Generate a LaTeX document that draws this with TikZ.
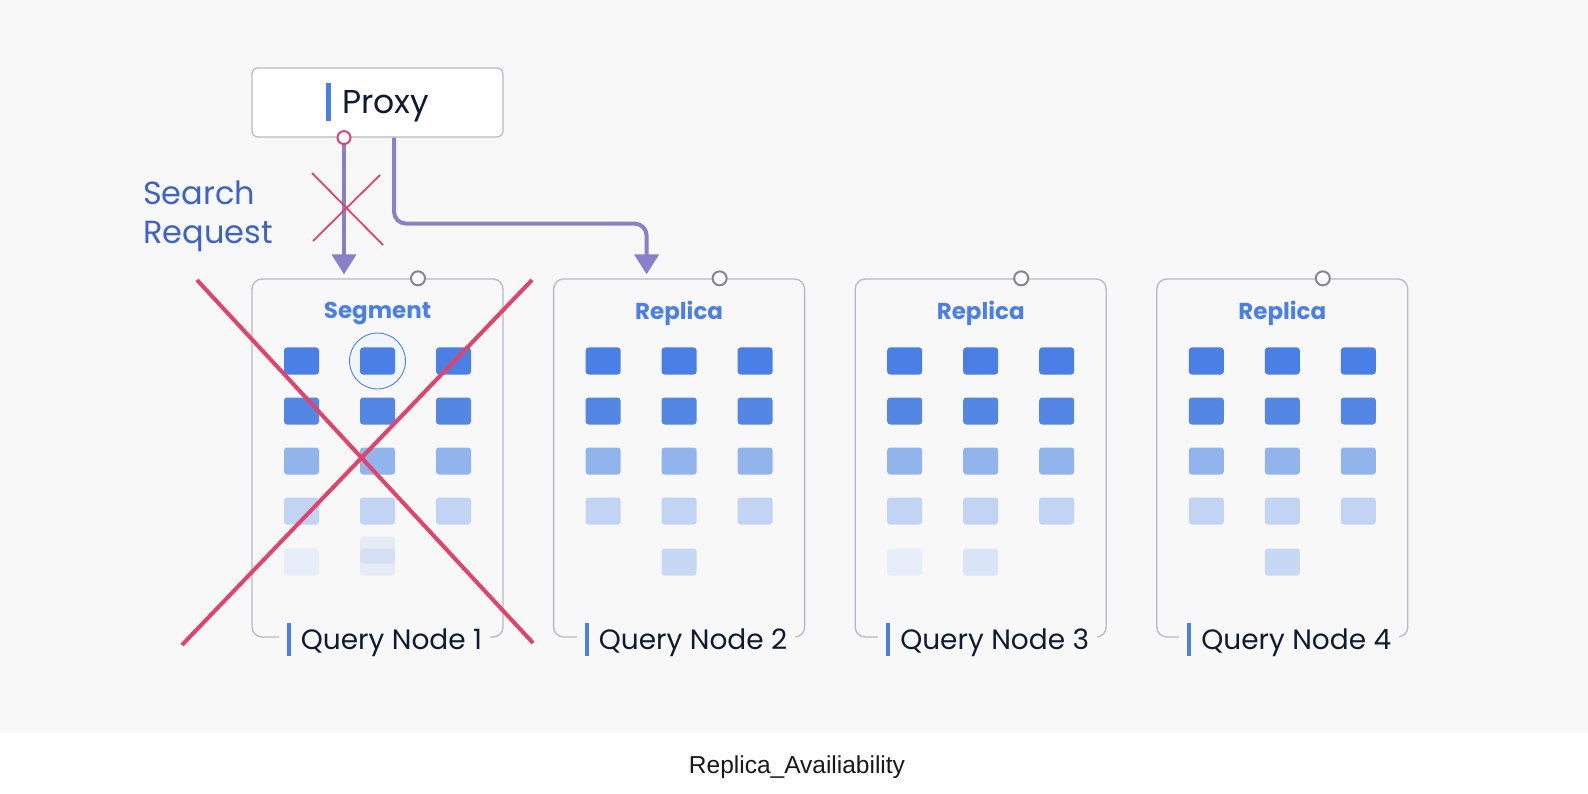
\documentclass[tikz,border=0pt]{standalone}
\usepackage{fontspec}
\setmainfont{Poppins}
\newfontfamily\capfont{Liberation Sans}
\usetikzlibrary{arrows.meta,calc}

\definecolor{bgray}{HTML}{F8F8F9}
\definecolor{qblue}{HTML}{4A80E5}
\definecolor{sq2}{HTML}{5387E3}
\definecolor{sq3}{HTML}{92B4EC}
\definecolor{sq4}{HTML}{C2D4F3}
\definecolor{sq5}{HTML}{C7D8F4}
\definecolor{sqfaint}{HTML}{E8EEF9}
\definecolor{sqpale}{HTML}{D9E5F7}
\definecolor{frame}{HTML}{B9B9C2}
\definecolor{portc}{HTML}{86868C}
\definecolor{flowc}{HTML}{8A7FC9}
\definecolor{crossc}{HTML}{E0446A}
\definecolor{reqc}{HTML}{3C63C6}
\definecolor{ink}{HTML}{0F1A33}

\tikzset{
  qnode/.style={draw=frame, line width=1.3pt, rounded corners=10pt, minimum width=251pt, minimum height=358pt, inner sep=0pt},
  qlabel/.style={fill=bgray, inner xsep=8pt, inner ysep=2pt, text=ink, font=\fontsize{28}{32}\selectfont},
  segtitle/.style={text=qblue, font=\fontsize{23}{26}\selectfont\bfseries},
  flow/.style={draw=flowc, line width=4pt, shorten >=4pt, -{Triangle[width=24pt,length=20pt]}},
  port/.style={circle, draw=portc, fill=white, line width=2pt, minimum size=14pt, inner sep=0pt},
  cross/.style={draw=crossc, line width=4pt},
  thincross/.style={draw=crossc, line width=1.8pt},
  seg/.style={rounded corners=3pt},
}

\begin{document}
\begin{tikzpicture}[x=1pt,y=-1pt]
\useasboundingbox (0,0) rectangle (1588,794);
\fill [white] (0,0) rectangle (1588,794);
\fill [bgray] (0,0) rectangle (1588,733);

% proxy
\node [draw=frame, fill=white, line width=1.2pt, rounded corners=6pt, minimum width=251pt, minimum height=69pt, inner sep=0pt, text=ink, font=\fontsize{33}{36}\selectfont] (proxy) at (377.5,102.5) {\textcolor{qblue}{\rule[-7pt]{5pt}{38pt}}\hspace{11pt}Proxy};

% query nodes
\foreach \i/\t in {1/Segment, 2/Replica, 3/Replica, 4/Replica} {
  \node [qnode] (qn\i) at ({377.5+301.6*(\i-1)},458) {};
  \node [segtitle] (title\i) at ([yshift=-35pt]qn\i.north) {\t};
  \node [qlabel] (label\i) at ([xshift=7pt,yshift=-2pt]qn\i.south) {\textcolor{qblue}{\rule[-7pt]{4pt}{33pt}}\hspace{10pt}Query Node \i};
  \node [port] (port\i) at ([xshift=40.5pt]qn\i.north) {};
}

% highlighted segment
\draw [qblue, fill=qblue!8!white, line width=0.9pt] (377.5,361) circle (28);

% segments
\foreach \i in {0,...,3} {
  \foreach \r/\c in {361/qblue, 411/sq2, 461/sq3, 511/sq4} {
    \foreach \dx in {-76,0,76} {
      \fill [seg, \c] ({377.5+301.6*\i+\dx-17.5},\r-13.5) rectangle ++(35,27);
    }
  }
}
\fill [seg, sqfaint] (301.5-17.5,562-13.5) rectangle ++(35,27);
\fill [seg, qblue, fill opacity=0.1] (377.5-17.5,562-13.5) rectangle ++(35,27);
\fill [seg, qblue, fill opacity=0.1] (377.5-17.5,550-13.5) rectangle ++(35,27);
\fill [seg, sq5] (679.1-17.5,562-13.5) rectangle ++(35,27);
\fill [seg, sqfaint] (904.7-17.5,562-13.5) rectangle ++(35,27);
\fill [seg, sqpale] (980.7-17.5,562-13.5) rectangle ++(35,27);
\fill [seg, sq5] (1282.3-17.5,562-13.5) rectangle ++(35,27);

% requests
\node [port, draw=crossc, minimum size=13pt] (req) at ([xshift=-33.5pt]proxy.south) {};
\draw [flow] (req.south) -- ([xshift=-33.5pt]qn1.north);
\draw [flow, rounded corners=12pt] ([xshift=16.5pt]proxy.south) -- ++(0,86) -| ([xshift=-32.5pt]qn2.north);

\node [text=reqc, align=left, anchor=west, inner sep=0pt, font=\fontsize{32}{39}\selectfont] (reqtext) at (143,216) {Search\\Request};

\coordinate (blk) at (347,209);
\draw [thincross] ($(blk)+(-35,-36)$) -- ($(blk)+(36,36)$);
\draw [thincross] ($(blk)+(33,-34)$) -- ($(blk)+(-34,32)$);

% failed node
\draw [cross] (197,280) -- (533,643);
\draw [cross] (532,280) -- (182,645);

\node [text=black!90, font=\capfont\fontsize{24.5}{28}\selectfont] (caption) at (797,767) {Replica\_Availiability};
\end{tikzpicture}
\end{document}
